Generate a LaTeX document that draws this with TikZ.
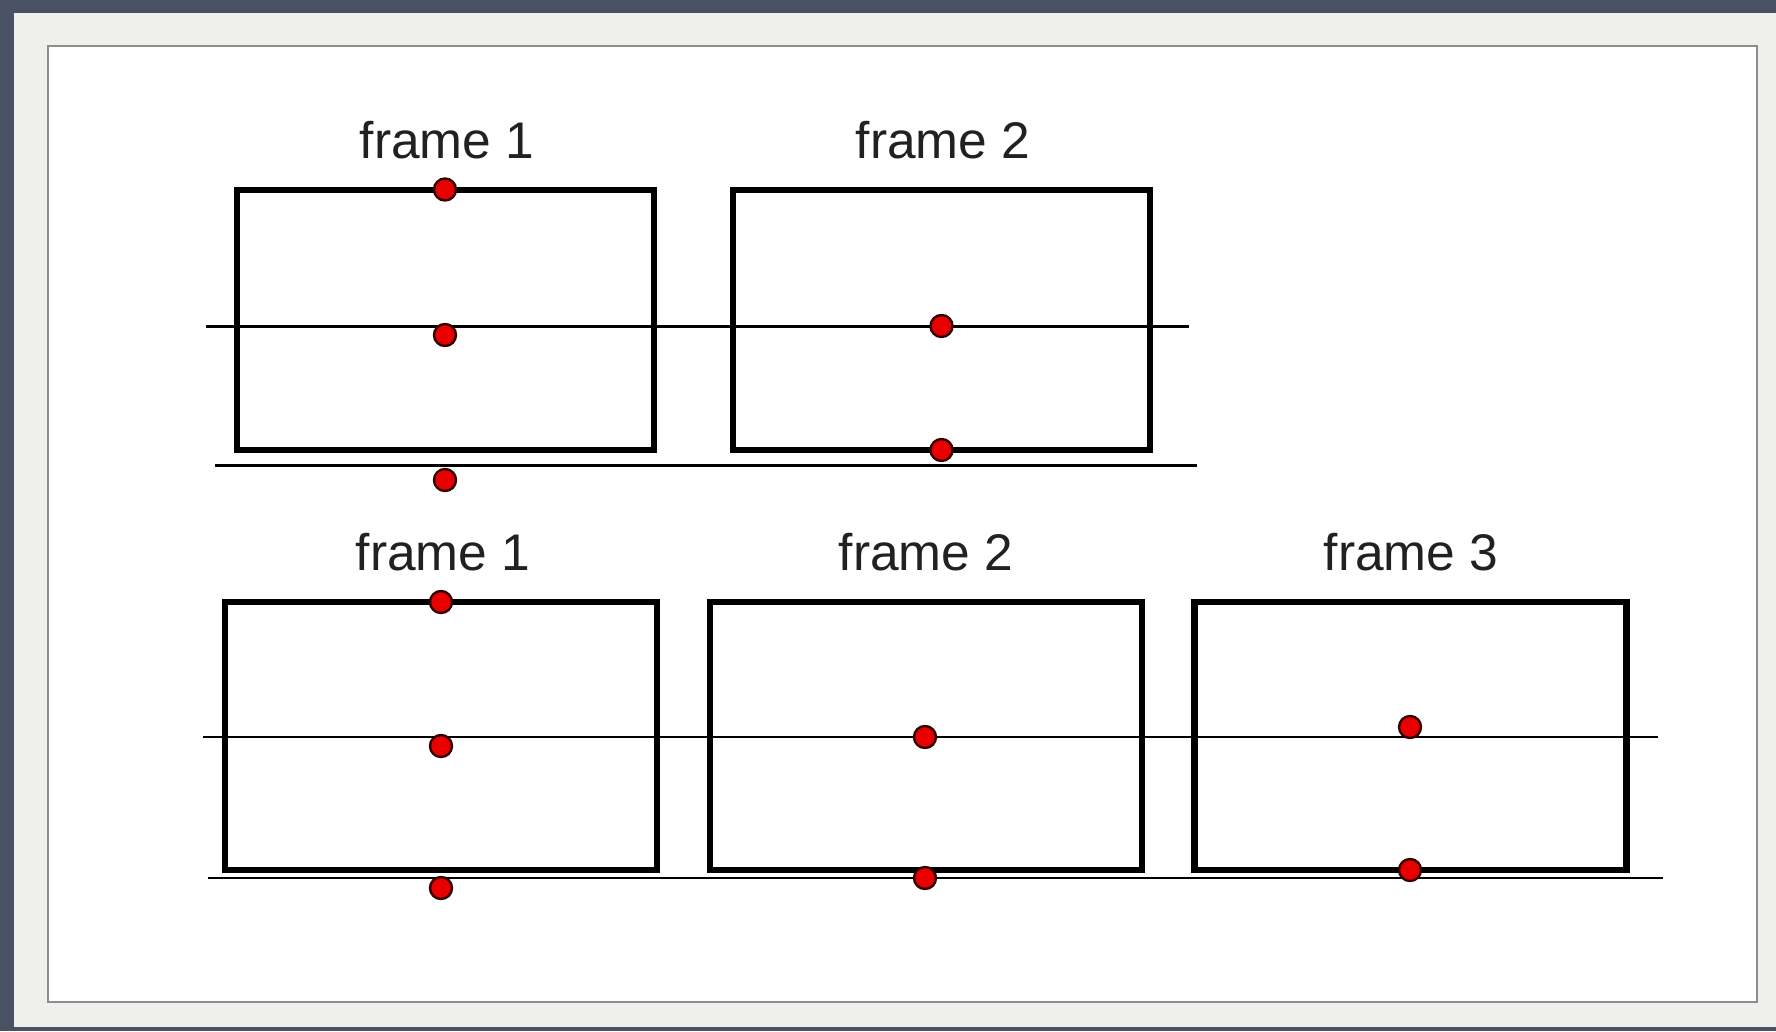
\documentclass[tikz,border=0pt]{standalone}
\usepackage{fontspec}
\setmainfont{Liberation Sans}
\usepackage{xcolor}
\usepackage{tikz}
\usetikzlibrary{positioning}
\definecolor{slate}{HTML}{4B5165}
\definecolor{mat}{HTML}{EFEFED}
\definecolor{dotred}{HTML}{E80000}
\tikzset{
  framebox/.style={rectangle, draw=black, line width=6.5pt, fill=none,
    minimum width=417pt, minimum height=260pt, inner sep=0pt},
  wideframe/.style={framebox, minimum width=432pt, minimum height=268pt},
  lbl/.style={anchor=base, inner sep=0pt, text=black!87,
    font=\fontsize{51.5pt}{62pt}\selectfont},
  guide/.style={draw=black, line width=2.6pt},
  dot/.style={circle, fill=dotred, draw=black!80!red, line width=2.4pt,
    minimum size=22pt, inner sep=0pt},
}

\begin{document}
\begin{tikzpicture}[x=1pt, y=-1pt]
  \useasboundingbox (0,0) rectangle (1776,1031);
  % mount and white sheet
  \fill[slate] (0,0) rectangle (1776,1031);
  \fill[mat] (14,13) rectangle (1776,1027);
  \draw[fill=white, draw=black!45, line width=1.5pt] (48,46) rectangle (1757,1002);

  % two-frame row
  \node[framebox] (ta) at (445.5,320) {};
  \node[framebox] (tb) at (941.5,320) {};
  \node[lbl] (tla) at (447,158) {frame 1};
  \node[lbl] (tlb) at (943,158) {frame 2};
  \coordinate (tu0) at (206,326.5);
  \coordinate (tu1) at (1189,326.5);
  \coordinate (tl0) at (215,465.5);
  \coordinate (tl1) at (1197,465.5);
  \draw[guide] (tu0) -- (tu1);
  \draw[guide] (tl0) -- (tl1);
  \node[dot] (ta1) at (445,189.5) {};
  \node[dot] (ta2) at (445,335) {};
  \node[dot] (ta3) at (445,480) {};
  \node[dot] (tb1) at (941.5,326) {};
  \node[dot] (tb2) at (941.5,450) {};

  % three-frame row
  \node[wideframe] (ba) at (441,736) {};
  \node[wideframe] (bb) at (926,736) {};
  \node[wideframe] (bc) at (1410.5,736) {};
  \node[lbl] (bla) at (443,570) {frame 1};
  \node[lbl] (blb) at (926,570) {frame 2};
  \node[lbl] (blc) at (1411,570) {frame 3};
  \coordinate (bu0) at (203,737);
  \coordinate (bu1) at (1658,737);
  \coordinate (bl0) at (208,878);
  \coordinate (bl1) at (1663,878);
  \draw[guide] (bu0) -- (bu1);
  \draw[guide] (bl0) -- (bl1);
  \node[dot] (ba1) at (441,602) {};
  \node[dot] (ba2) at (441,746) {};
  \node[dot] (ba3) at (441,888) {};
  \node[dot] (bb1) at (925,737) {};
  \node[dot] (bb2) at (925,878) {};
  \node[dot] (bc1) at (1410,727) {};
  \node[dot] (bc2) at (1410,870) {};
\end{tikzpicture}
\end{document}
